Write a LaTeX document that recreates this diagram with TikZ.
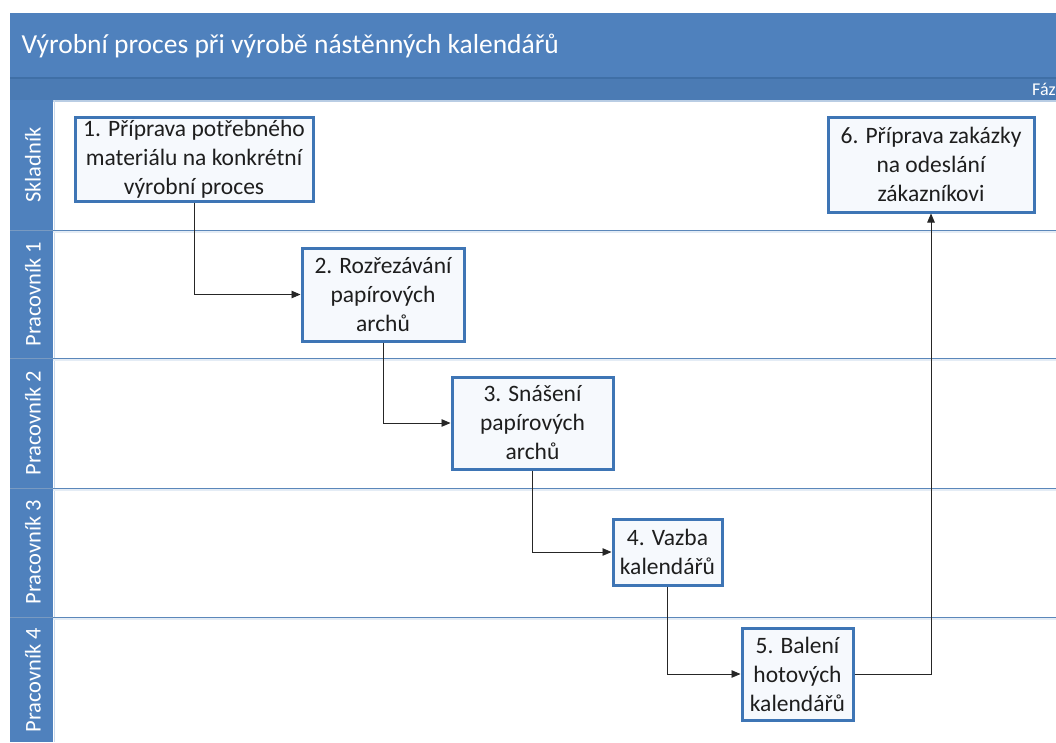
\documentclass[tikz,border=0pt]{standalone}
\usepackage{fontspec}
\setmainfont{Carlito}
\usetikzlibrary{arrows.meta}
\definecolor{hdrblue}{HTML}{4F81BD}
\definecolor{hdrdark}{HTML}{3F6FA6}
\definecolor{boxblue}{HTML}{3E75B5}
\definecolor{laneline}{HTML}{5B87BA}
\definecolor{boxfill}{HTML}{F6F9FD}
\definecolor{txt}{HTML}{1E1E1E}
\tikzset{
  procbox/.style={draw=boxblue, line width=3pt, fill=boxfill, align=center,
    text=txt, font=\fontsize{23.5}{29}\selectfont, inner sep=0pt},
  lanelabel/.style={rotate=90, text=white, font=\fontsize{22.5}{24}\selectfont},
  flow/.style={draw=black!85, line width=0.9pt, -{Triangle[length=9pt,width=7.5pt]}},
  lanesep/.style={draw=laneline, line width=1pt}
}
\begin{document}
\begin{tikzpicture}[x=1pt,y=-1pt]
\useasboundingbox (0,0) rectangle (1056,742);
\fill[white] (0,0) rectangle (1056,742);
\begin{scope}
\clip (0,0) rectangle (1056,742);
% header
\fill[hdrblue] (10,13) rectangle (1056,100);
\draw[hdrdark, line width=1.2pt] (10,78) -- (1056,78);
\fill[hdrblue!95!black] (10,79) rectangle (1056,100);
\draw[hdrblue!40, line width=1.5pt] (53,101) -- (1056,101);
\node[anchor=west, text=white, font=\fontsize{27.5}{32}\selectfont] (title) at (18,46) {Výrobní proces při výrobě nástěnných kalendářů};
\node[anchor=west, text=white, font=\fontsize{18}{20}\selectfont, inner sep=0pt] (faze) at (1032,89) {Fáze};
% lane column
\fill[hdrblue] (10,100) rectangle (53,742);
\draw[hdrblue!30, line width=1pt] (54,100) -- (54,742);
% lane separators
\foreach \yy in {230,358,488,617} {
  \draw[lanesep] (53,\yy) -- (1056,\yy);
  \draw[hdrblue!15, line width=1.5pt] (53,\yy+2) -- (1056,\yy+2);
  \draw[hdrdark!70, line width=1pt] (10,\yy) -- (53,\yy);
}
\node[lanelabel] (l0) at (33,165) {Skladník};
\node[lanelabel] (l1) at (33,294) {Pracovník 1};
\node[lanelabel] (l2) at (33,423) {Pracovník 2};
\node[lanelabel] (l3) at (33,552) {Pracovník 3};
\node[lanelabel] (l4) at (33,680) {Pracovník 4};
% boxes
\node[procbox, minimum width=238pt, minimum height=84pt] (b1) at (194,159)
  {1. Příprava potřebného\\materiálu na konkrétní\\výrobní proces};
\node[procbox, minimum width=162pt, minimum height=93pt] (b2) at (383,294.5)
  {2. Rozřezávání\\papírových\\archů};
\node[procbox, minimum width=161pt, minimum height=92pt] (b3) at (532.5,423)
  {3. Snášení\\papírových\\archů};
\node[procbox, minimum width=109pt, minimum height=66pt] (b4) at (667.5,552)
  {4. Vazba\\kalendářů};
\node[procbox, minimum width=111pt, minimum height=92pt] (b5) at (797.5,674)
  {5. Balení\\hotových\\kalendářů};
\node[procbox, minimum width=206pt, minimum height=95pt] (b6) at (931,164.5)
  {6. Příprava zakázky\\na odeslání\\zákazníkovi};
% connectors
\draw[flow] (b1.south) |- (b2.west);
\draw[flow] (b2.south) |- (b3.west);
\draw[flow] (b3.south) |- (b4.west);
\draw[flow] (b4.south) |- (b5.west);
\draw[flow] (b5.east) -| (b6.south);
\end{scope}
\end{tikzpicture}
\end{document}
